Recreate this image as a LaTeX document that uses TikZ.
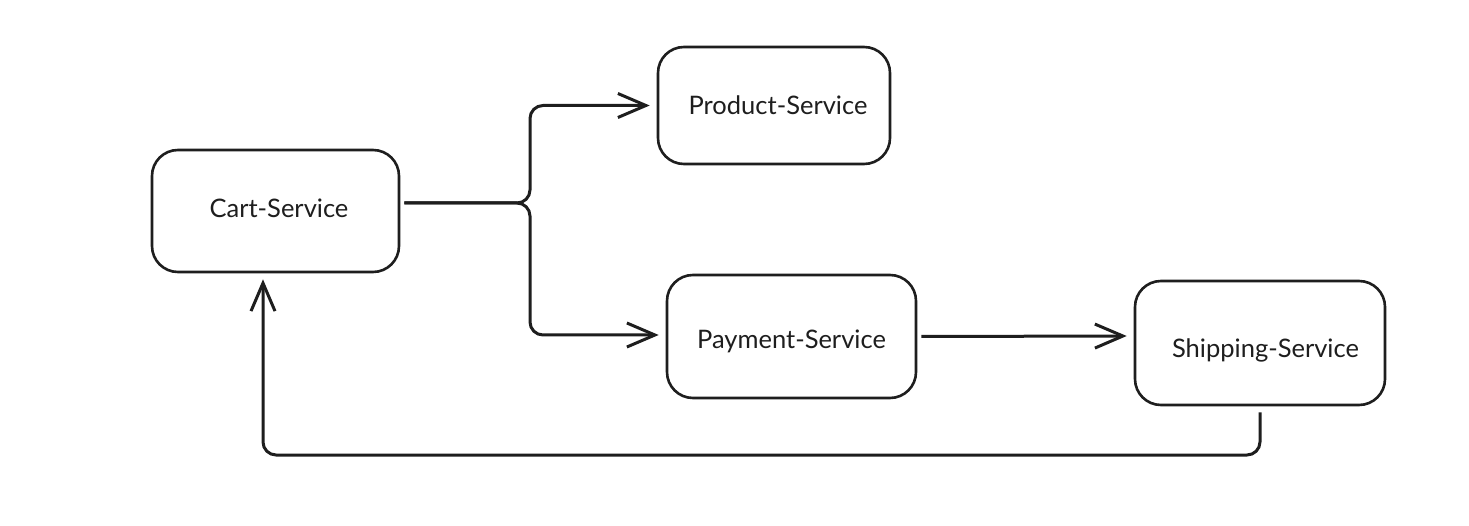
\documentclass[tikz,border=0pt]{standalone}
\usepackage{fontspec}
\setmainfont{Lato}
\usetikzlibrary{arrows.meta}
\definecolor{ink}{HTML}{1E1E1E}
\newcommand{\svctext}[3]{\hspace*{#1}\raisebox{#2}[0pt][0pt]{#3}}
\begin{document}
\begin{tikzpicture}[x=1pt,y=-1pt,
  svc/.style={draw=ink, line width=2.6pt, rounded corners=26pt, fill=white,
    inner sep=0pt, font=\fontsize{25.5}{30}\selectfont, text=ink},
  conn/.style={draw=ink, line width=3pt, rounded corners=13pt,
    -{Straight Barb[length=28pt,width=24pt,line width=3pt]}}]
\useasboundingbox (0,0) rectangle (1469,526);
\fill[white] (0,0) rectangle (1469,526);

\node[svc, minimum width=247pt, minimum height=122pt] (cart) at (275.5,211) {\svctext{7pt}{-7pt}{Cart-Service}};
\node[svc, minimum width=232pt, minimum height=117pt] (product) at (774,105.5) {\svctext{8pt}{-9pt}{Product-Service}};
\node[svc, minimum width=249pt, minimum height=123pt] (payment) at (791.5,336.5) {\svctext{0pt}{-12.5pt}{Payment-Service}};
\node[svc, minimum width=250pt, minimum height=124pt] (shipping) at (1260,343) {\svctext{11pt}{-14pt}{Shipping-Service}};

\coordinate (split) at (530,203);
\coordinate (ret) at (760,455);

\draw[conn] ([xshift=4pt,yshift=8pt]cart.east) -- (split) |- ([xshift=-7pt]product.west);
\draw[conn] ([xshift=4pt,yshift=8pt]cart.east) -- (split) |- ([xshift=-7pt,yshift=1.5pt]payment.west);
\draw[conn] ([xshift=4pt]payment.east) -- ([xshift=-7pt,yshift=0.5pt]payment.east -| shipping.west);
\draw[conn] ([yshift=-6pt]shipping.south) |- (ret) -| ([xshift=-12.5pt,yshift=-6pt]cart.south);
\end{tikzpicture}
\end{document}
